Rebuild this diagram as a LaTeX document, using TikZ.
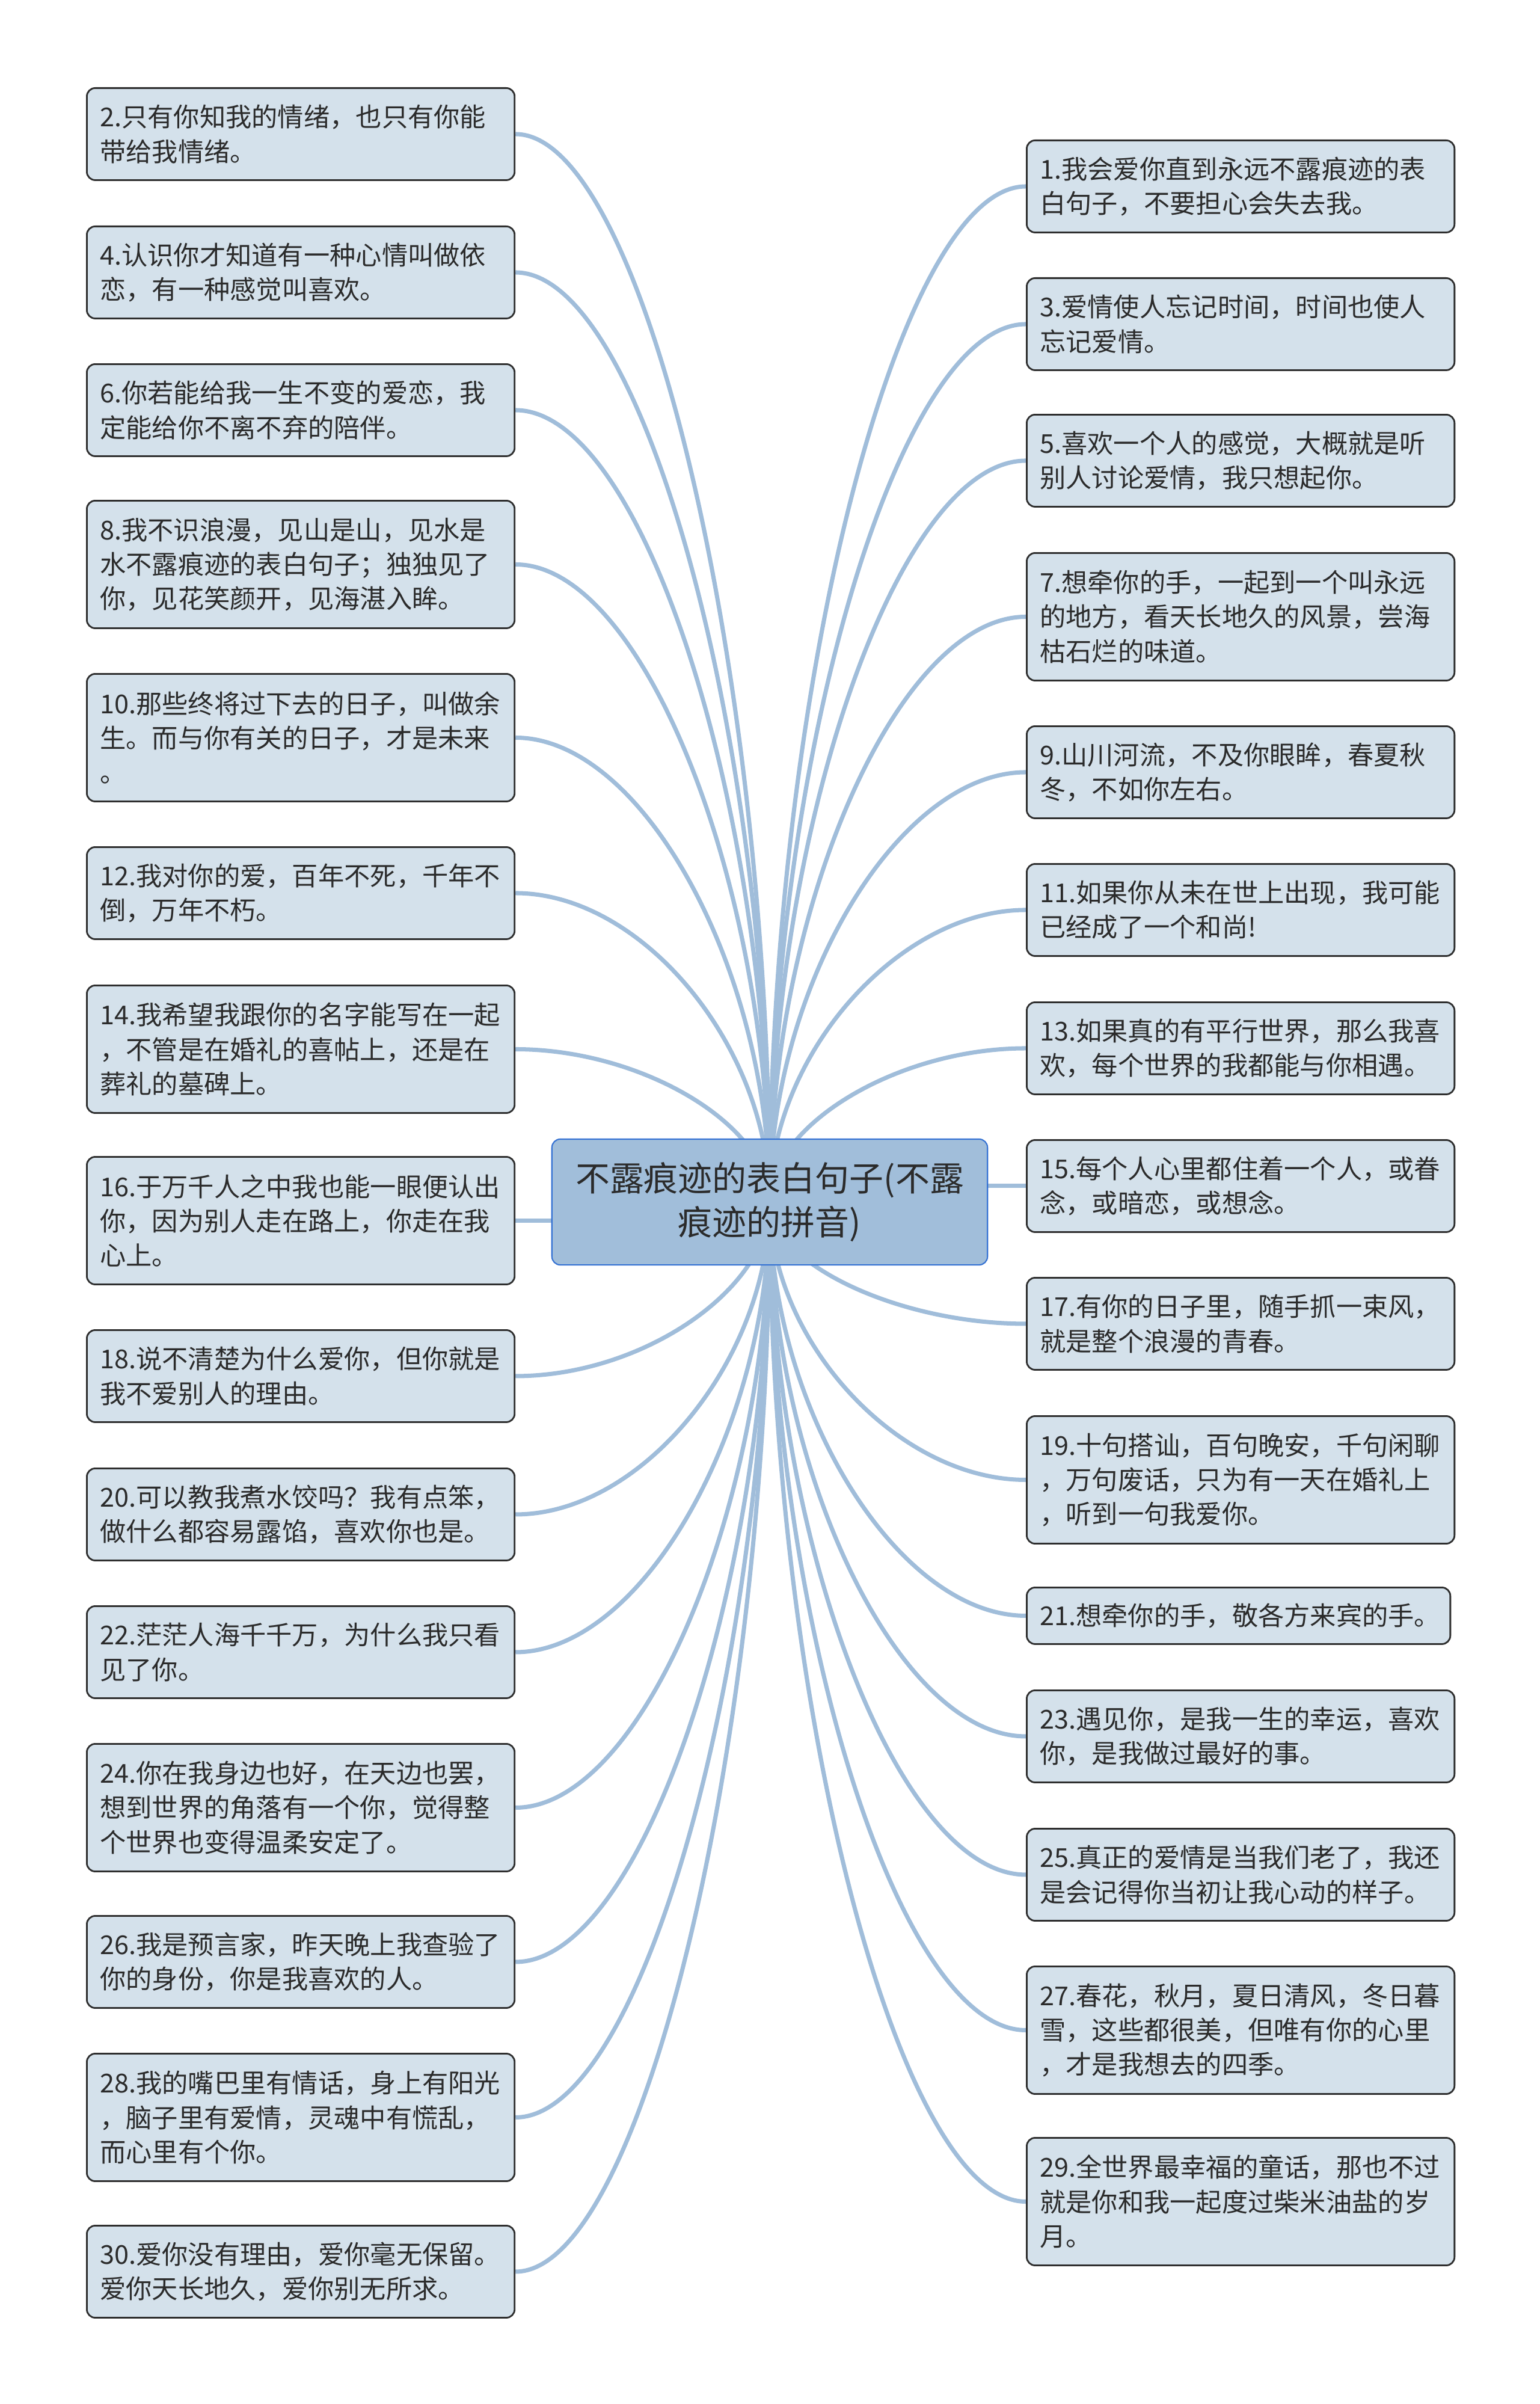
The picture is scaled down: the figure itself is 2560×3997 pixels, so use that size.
\documentclass[tikz,border=0pt]{standalone}
\usepackage{fontspec}
\setmainfont{Noto Sans CJK SC}
\usetikzlibrary{calc,backgrounds}
\definecolor{boxfill}{HTML}{D4E1EB}
\definecolor{boxdraw}{HTML}{2E2E2E}
\definecolor{mainfill}{HTML}{A1BEDA}
\definecolor{maindraw}{HTML}{3572D3}
\definecolor{connc}{HTML}{A0BDDA}
\definecolor{txt}{HTML}{2B2B2B}
\newcommand\lconn[1]{\draw[conn] (c.center) .. controls ($(c.center)!0.5!(c.center|-#1.east)$) and ($(#1.east)!0.5!(c.center|-#1.east)$) .. (#1.east);}
\newcommand\rconn[1]{\draw[conn] (c.center) .. controls ($(c.center)!0.5!(c.center|-#1.west)$) and ($(#1.west)!0.5!(c.center|-#1.west)$) .. (#1.west);}
\begin{document}
\begin{tikzpicture}[x=0.01cm,y=-0.01cm,
  box/.style={draw=boxdraw,fill=boxfill,line width=0.8pt,rounded corners=0.14cm,
    text width=6.67cm,align=left,inner xsep=0.22cm,inner ysep=0pt,anchor=north west,
    font=\fontsize{12.3pt}{16.3pt}\selectfont,text=txt},
  hone/.style={minimum height=0.94cm},
  htwo/.style={minimum height=1.53cm},
  hthree/.style={minimum height=2.12cm},
  mainbox/.style={draw=maindraw,fill=mainfill,line width=0.6pt,rounded corners=0.14cm,
    minimum width=7.24cm,minimum height=2.09cm,align=center,inner sep=0pt,
    font=\fontsize{16.2pt}{21pt}\selectfont,text=txt},
  conn/.style={draw=connc,line width=2pt}]
\useasboundingbox (0,0) rectangle (2560,3997);

\node[mainbox] (c) at (1280,1998.5) {不露痕迹的表白句子(不露\\痕迹的拼音)};

% left column
\node[box,htwo] (n2) at (143,145) {2.只有你知我的情绪，也只有你能\\带给我情绪。};
\node[box,htwo] (n4) at (143,375) {4.认识你才知道有一种心情叫做依\\恋，有一种感觉叫喜欢。};
\node[box,htwo] (n6) at (143,604) {6.你若能给我一生不变的爱恋，我\\定能给你不离不弃的陪伴。};
\node[box,hthree] (n8) at (143,831) {8.我不识浪漫，见山是山，见水是\\水不露痕迹的表白句子；独独见了\\你，见花笑颜开，见海湛入眸。};
\node[box,hthree] (n10) at (143,1119) {10.那些终将过下去的日子，叫做余\\生。而与你有关的日子，才是未来\\。};
\node[box,htwo] (n12) at (143,1407) {12.我对你的爱，百年不死，千年不\\倒，万年不朽。};
\node[box,hthree] (n14) at (143,1637) {14.我希望我跟你的名字能写在一起\\，不管是在婚礼的喜帖上，还是在\\葬礼的墓碑上。};
\node[box,hthree] (n16) at (143,1922) {16.于万千人之中我也能一眼便认出\\你，因为别人走在路上，你走在我\\心上。};
\node[box,htwo] (n18) at (143,2210) {18.说不清楚为什么爱你，但你就是\\我不爱别人的理由。};
\node[box,htwo] (n20) at (143,2440) {20.可以教我煮水饺吗？我有点笨，\\做什么都容易露馅，喜欢你也是。};
\node[box,htwo] (n22) at (143,2669) {22.茫茫人海千千万，为什么我只看\\见了你。};
\node[box,hthree] (n24) at (143,2898) {24.你在我身边也好，在天边也罢，\\想到世界的角落有一个你，觉得整\\个世界也变得温柔安定了。};
\node[box,htwo] (n26) at (143,3184) {26.我是预言家，昨天晚上我查验了\\你的身份，你是我喜欢的人。};
\node[box,hthree] (n28) at (143,3413) {28.我的嘴巴里有情话，身上有阳光\\，脑子里有爱情，灵魂中有慌乱，\\而心里有个你。};
\node[box,htwo] (n30) at (143,3699) {30.爱你没有理由，爱你毫无保留。\\爱你天长地久，爱你别无所求。};

% right column
\node[box,htwo] (n1) at (1706,232) {1.我会爱你直到永远不露痕迹的表\\白句子，不要担心会失去我。};
\node[box,htwo] (n3) at (1706,461) {3.爱情使人忘记时间，时间也使人\\忘记爱情。};
\node[box,htwo] (n5) at (1706,688) {5.喜欢一个人的感觉，大概就是听\\别人讨论爱情，我只想起你。};
\node[box,hthree] (n7) at (1706,918) {7.想牵你的手，一起到一个叫永远\\的地方，看天长地久的风景，尝海\\枯石烂的味道。};
\node[box,htwo] (n9) at (1706,1206) {9.山川河流，不及你眼眸，春夏秋\\冬，不如你左右。};
\node[box,htwo] (n11) at (1706,1435) {11.如果你从未在世上出现，我可能\\已经成了一个和尚!};
\node[box,htwo] (n13) at (1706,1665) {13.如果真的有平行世界，那么我喜\\欢，每个世界的我都能与你相遇。};
\node[box,htwo] (n15) at (1706,1894) {15.每个人心里都住着一个人，或眷\\念，或暗恋，或想念。};
\node[box,htwo] (n17) at (1706,2123) {17.有你的日子里，随手抓一束风，\\就是整个浪漫的青春。};
\node[box,hthree] (n19) at (1706,2353) {19.十句搭讪，百句晚安，千句闲聊\\，万句废话，只为有一天在婚礼上\\，听到一句我爱你。};
\node[box,hone,text width=6.60cm] (n21) at (1706,2638) {21.想牵你的手，敬各方来宾的手。};
\node[box,htwo] (n23) at (1706,2809) {23.遇见你，是我一生的幸运，喜欢\\你，是我做过最好的事。};
\node[box,htwo] (n25) at (1706,3039) {25.真正的爱情是当我们老了，我还\\是会记得你当初让我心动的样子。};
\node[box,hthree] (n27) at (1706,3268) {27.春花，秋月，夏日清风，冬日暮\\雪，这些都很美，但唯有你的心里\\，才是我想去的四季。};
\node[box,hthree] (n29) at (1706,3553) {29.全世界最幸福的童话，那也不过\\就是你和我一起度过柴米油盐的岁\\月。};

\begin{pgfonlayer}{background}
\fill[white] (0,0) rectangle (2560,3997);
\foreach \n in {n2,n4,n6,n8,n10,n12,n14,n18,n20,n22,n24,n26,n28,n30} {\lconn{\n}}
\foreach \n in {n1,n3,n5,n7,n9,n11,n13,n17,n19,n21,n23,n25,n27,n29} {\rconn{\n}}
\draw[conn] (c.west |- n16.east) -- (n16.east);
\draw[conn] (c.east |- n15.west) -- (n15.west);
\end{pgfonlayer}
\end{tikzpicture}
\end{document}
